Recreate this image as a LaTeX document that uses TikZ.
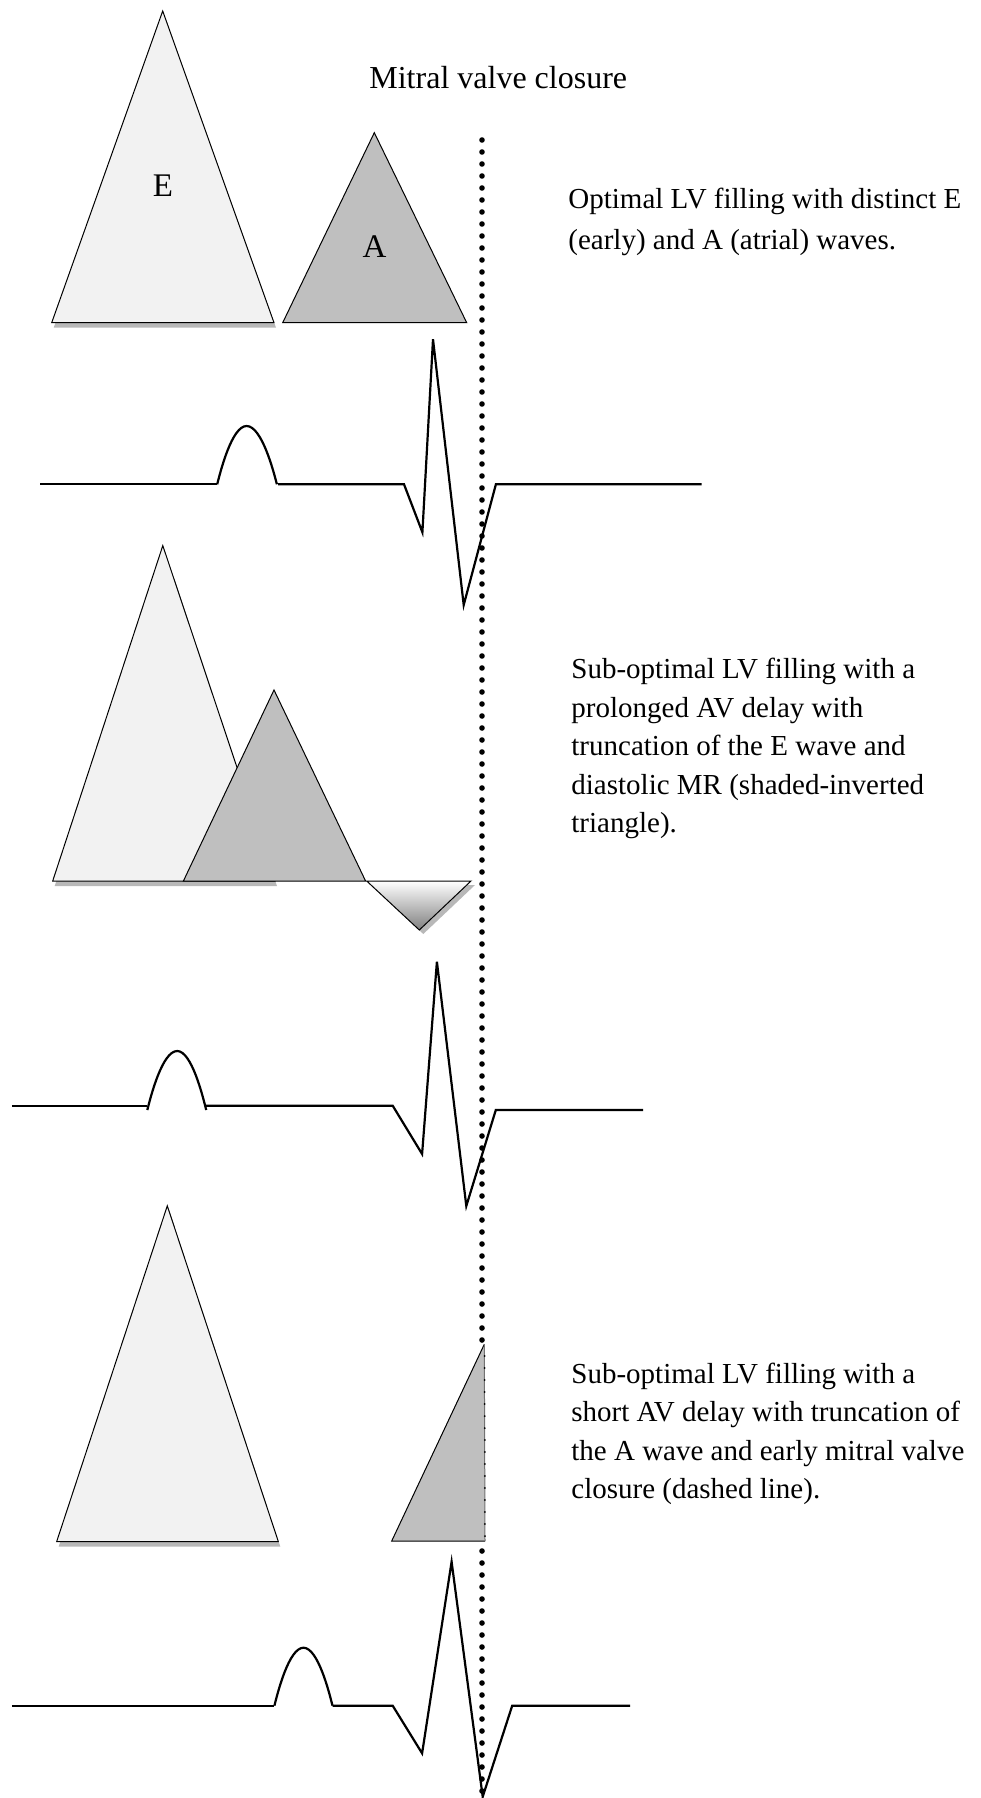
\documentclass[tikz,border=0pt]{standalone}
\usepackage{fontspec}
\setmainfont{Liberation Serif}
\definecolor{efill}{gray}{0.95}
\definecolor{afill}{gray}{0.75}
\definecolor{shadowgray}{gray}{0.72}
\tikzset{
  ewave/.style={draw=black, line width=0.5pt, fill=efill},
  awave/.style={draw=black, line width=0.5pt, fill=afill},
  eshadow/.style={fill=shadowgray, shift={(2,5)}},
  ecg/.style={line width=1.1pt},
  closure/.style={line width=2.8pt, line cap=round, dash pattern=on 0pt off 6pt},
  caption/.style={anchor=base west, inner sep=0pt, font=\fontsize{14.5}{17}\selectfont},
  wavelabel/.style={anchor=base, inner sep=0pt, font=\fontsize{16.5}{19}\selectfont}
}
\begin{document}
\begin{tikzpicture}[x=0.5pt, y=-0.5pt]
        \useasboundingbox (0,0) rectangle (980,1798);

        % Optimal filling
        \fill[eshadow] (162.7,11) -- (51.7,322.7) -- (274,322.7) -- cycle;
        \draw[ewave] (162.7,11) -- (51.7,322.7) -- (274,322.7) -- cycle;
        \draw[awave] (374.3,132.7) -- (282.7,322.7) -- (466.7,322.7) -- cycle;
        \node[wavelabel] (elabel) at (163,196.7) {E};
        \node[wavelabel] (alabel) at (374.5,257.3) {A};
        \node[anchor=base west, inner sep=0pt, font=\fontsize{16}{19}\selectfont] (mvc) at (369,88.3) {Mitral valve closure};
        \node[caption] (opt1) at (568,208.3) {Optimal LV filling with distinct E};
        \node[caption] (opt2) at (568,249.5) {(early) and A (atrial) waves.};

        \draw[ecg] (40.4,484.3) -- (217.2,484.3);
        \draw[ecg] (217.2,484.3) parabola bend (246.6,426) (276.9,484.3);
        \draw[ecg] (278,484.3) -- (404,484.3) -- (422.4,532.3) -- (433,339.3) -- (463.7,605) -- (495.9,484.3) -- (701.6,484.3);

        % Prolonged AV delay
        \fill[eshadow] (162.8,545.6) -- (52.7,881) -- (275,881) -- cycle;
        \draw[ewave] (162.8,545.6) -- (52.7,881) -- (275,881) -- cycle;
        \draw[awave] (274,690) -- (183.4,881) -- (365.6,881) -- cycle;
        \fill[shadowgray] (370.7,885) -- (475,885) -- (423.3,934) -- cycle;
        \draw[line width=0.5pt, top color=white, bottom color=black!50] (366.7,881) -- (471,881) -- (419.3,930) -- cycle;
        \node[caption] (prol1) at (571,678.3) {Sub-optimal LV filling with a};
        \node[caption] (prol2) at (571,717.7) {prolonged AV delay with};
        \node[caption] (prol3) at (571,755.7) {truncation of the E wave and};
        \node[caption] (prol4) at (571,794) {diastolic MR (shaded-inverted};
        \node[caption] (prol5) at (571,832.3) {triangle).};

        \draw[ecg] (11.8,1105.7) -- (147.3,1105.7);
        \draw[ecg] (147.3,1110) parabola bend (177.2,1051) (206.2,1110);
        \draw[ecg] (206.2,1105.7) -- (392.7,1105.7) -- (422.1,1154) -- (436.9,961.7) -- (466.3,1206) -- (495.8,1110) -- (643.1,1110);

        % Short AV delay
        \fill[eshadow] (167.3,1205.8) -- (56.7,1541.5) -- (278.3,1541.5) -- cycle;
        \draw[ewave] (167.3,1205.8) -- (56.7,1541.5) -- (278.3,1541.5) -- cycle;
        \fill[afill] (484.3,1344.3) -- (391.7,1541) -- (485,1541) -- cycle;
        \draw[line width=0.5pt] (485,1541) -- (391.7,1541) -- (484.3,1344.3);
        \draw[line width=0.5pt, black!55] (484.3,1344.3) -- (485,1541);
        \draw[line width=1pt, line cap=round, dash pattern=on 0pt off 6pt] (484.6,1356) -- (485,1541);
        \node[caption] (short1) at (571,1383.3) {Sub-optimal LV filling with a};
        \node[caption] (short2) at (571,1421) {short AV delay with truncation of};
        \node[caption] (short3) at (571,1460) {the A wave and early mitral valve};
        \node[caption] (short4) at (571,1498.3) {closure (dashed line).};

        \draw[ecg] (11.8,1705.7) -- (274.4,1705.7);
        \draw[ecg] (274.4,1705.7) parabola bend (303.5,1647.7) (332.5,1705.7);
        \draw[ecg] (332.5,1705.7) -- (392.7,1705.7) -- (422.1,1753.3) -- (451.6,1561.7) -- (482.7,1796.7) -- (512.2,1705.7) -- (630.1,1705.7);

        % Mitral valve closure line
        \coordinate (mvtop) at (482,140);
        \coordinate (mvmid) at (482,1344);
        \coordinate (mvlow) at (482,1551);
        \coordinate (mvend) at (482,1800);
        \draw[closure] (mvtop) -- (mvmid);
        \draw[closure] (mvlow) -- (mvend);
    \end{tikzpicture}
\end{document}
